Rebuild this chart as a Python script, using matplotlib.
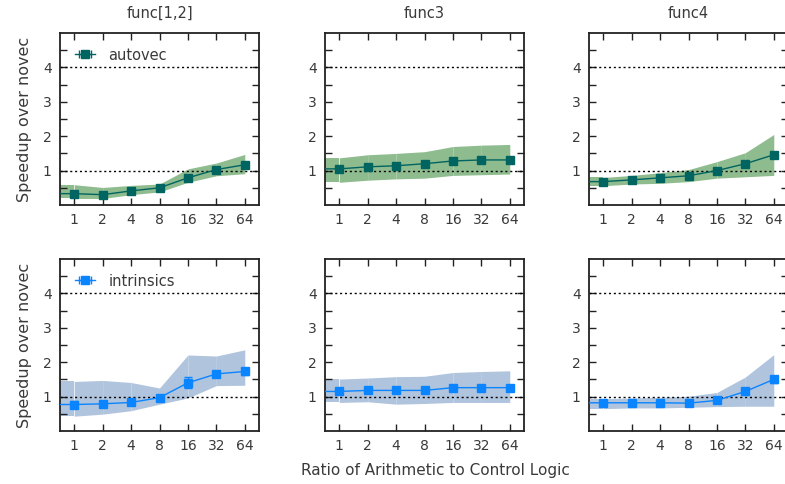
import numpy as np
import matplotlib
matplotlib.use("Agg")
import matplotlib.pyplot as plt
from matplotlib.lines import Line2D
from matplotlib.legend_handler import HandlerLine2D, HandlerTuple

plt.rcParams['font.family'] = ['DejaVu Sans']

ratios = ['1', '2', '4', '8', '16', '32', '64']
funcs = ['func[1,2]', 'func3', 'func4']

# autovec: mean speedup, error, band low/high
auto_mean = [
    [0.33, 0.30, 0.41, 0.50, 0.79, 1.03, 1.17],
    [1.05, 1.11, 1.14, 1.20, 1.28, 1.31, 1.31],
    [0.68, 0.73, 0.79, 0.85, 1.00, 1.20, 1.46],
]
auto_err = [
    [0.02, 0.02, 0.02, 0.02, 0.04, 0.03, 0.05],
    [0.03, 0.02, 0.02, 0.02, 0.02, 0.02, 0.02],
    [0.02, 0.02, 0.02, 0.02, 0.02, 0.03, 0.08],
]
auto_lo = [
    [0.19, 0.19, 0.30, 0.38, 0.66, 0.85, 0.91],
    [0.66, 0.72, 0.76, 0.78, 0.86, 0.88, 0.90],
    [0.56, 0.61, 0.63, 0.68, 0.78, 0.82, 0.86],
]
auto_hi = [
    [0.59, 0.51, 0.57, 0.61, 1.05, 1.22, 1.47],
    [1.37, 1.46, 1.50, 1.55, 1.70, 1.74, 1.76],
    [0.80, 0.86, 0.94, 1.03, 1.26, 1.52, 2.05],
]

# intrinsics
intr_mean = [
    [0.77, 0.79, 0.83, 0.97, 1.40, 1.66, 1.73],
    [1.15, 1.18, 1.18, 1.18, 1.26, 1.26, 1.26],
    [0.82, 0.82, 0.82, 0.81, 0.89, 1.15, 1.50],
]
intr_err = [
    [0.10, 0.08, 0.06, 0.04, 0.16, 0.08, 0.10],
    [0.04, 0.03, 0.03, 0.03, 0.03, 0.03, 0.03],
    [0.03, 0.03, 0.02, 0.02, 0.03, 0.04, 0.10],
]
intr_lo = [
    [0.43, 0.49, 0.59, 0.78, 0.96, 1.32, 1.33],
    [0.83, 0.85, 0.78, 0.80, 0.83, 0.83, 0.83],
    [0.65, 0.67, 0.67, 0.69, 0.71, 0.72, 0.72],
]
intr_hi = [
    [1.44, 1.47, 1.41, 1.25, 2.21, 2.18, 2.36],
    [1.51, 1.54, 1.58, 1.59, 1.70, 1.73, 1.75],
    [0.94, 0.96, 0.98, 1.01, 1.12, 1.57, 2.22],
]

W, H = 785, 484
fig = plt.figure(figsize=(W / 100, H / 100), dpi=100)

col_left = [60, 325, 589]
row_top = [33, 259]
aw, ah = 199, 172

text_col = '#3a3a3a'
series = [
    ('autovec', auto_mean, auto_err, auto_lo, auto_hi, '#006461', '#8fbc8f'),
    ('intrinsics', intr_mean, intr_err, intr_lo, intr_hi, '#0a84ff', '#b0c4de'),
]

x = np.arange(len(ratios))
xl = (-0.5, 6.5)
yt = np.arange(0.5, 5.0, 0.5)

for r, (name, mean, err, lo, hi, lc, fc) in enumerate(series):
    for c in range(3):
        ax = fig.add_axes([col_left[c] / W, 1 - (row_top[r] + ah) / H, aw / W, ah / H])
        m = np.array(mean[c]); e = np.array(err[c])
        l = np.array(lo[c]); h = np.array(hi[c])
        # band: extend flat to the left edge, drawn in segments
        xx = np.r_[xl[0], x]
        ll = np.r_[l[0], l]
        hh = np.r_[h[0], h]
        for i in range(len(xx) - 1):
            ax.fill_between(xx[i:i + 2], ll[i:i + 2], hh[i:i + 2], color=fc, lw=0, zorder=1)
        ax.axhline(1, color='black', ls=(0, (1.5, 2)), lw=1.0, zorder=2)
        ax.axhline(4, color='black', ls=(0, (1.5, 2)), lw=1.0, zorder=2)
        ax.plot(np.r_[xl[0], x], np.r_[m[0], m], color=lc, lw=1.0, zorder=3)
        ax.errorbar(x, m, yerr=e, fmt='s', color=lc, ms=6, elinewidth=1.0,
                    capsize=3, capthick=1.0, zorder=4)
        ax.set_xlim(*xl)
        ax.set_ylim(0, 5)
        ax.set_xticks(x)
        ax.set_xticklabels(ratios)
        ax.set_yticks(yt)
        ax.set_yticklabels(['' if v % 1 else str(int(v)) for v in yt])
        ax.tick_params(direction='in', length=5, width=1.0, top=True, right=True,
                       labelsize=10, colors='#222222', labelcolor=text_col, pad=6)
        for s in ax.spines.values():
            s.set_linewidth(1.3)
            s.set_color('#222222')
        if r == 0:
            ax.set_title(funcs[c], fontsize=10.5, color=text_col, pad=11)
        if c == 0:
            ax.set_ylabel('Speedup over novec', fontsize=11.5, color=text_col, labelpad=8)
            sq = Line2D([], [], color=lc, marker='s', ms=6, lw=1.0)
            cap = Line2D([], [], color=lc, marker='|', ms=6, mew=1.0, lw=1.0)
            ax.legend([(cap, sq)], [name], loc='upper left', frameon=False,
                      fontsize=10.5, labelcolor=text_col, handlelength=1.4,
                      handletextpad=0.9, borderaxespad=0.6,
                      handler_map={cap: HandlerLine2D(numpoints=2),
                                   sq: HandlerLine2D(numpoints=1),
                                   tuple: HandlerTuple(ndivide=1)})

fig.text(435 / W, 1 - 470 / H, 'Ratio of Arithmetic to Control Logic',
         ha='center', va='center', fontsize=11, color=text_col)

fig.savefig('out.png', dpi=100)
